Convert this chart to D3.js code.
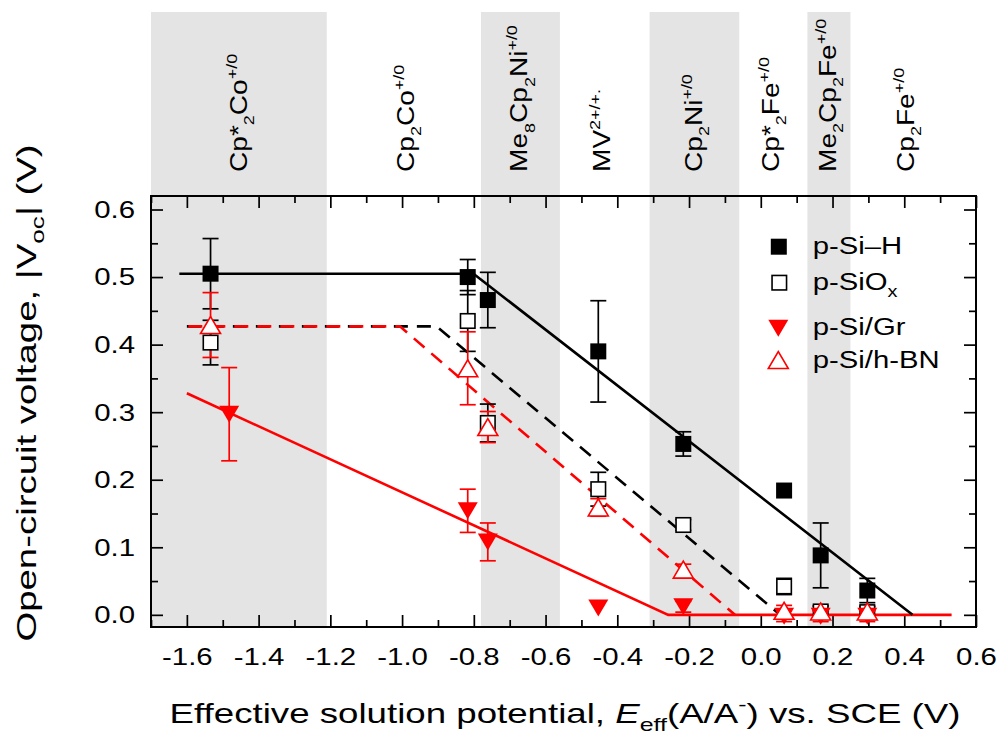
<!DOCTYPE html>
<html>
<head>
<meta charset="utf-8">
<script src="https://cdn.jsdelivr.net/npm/d3@7"></script>
<style>
  body { margin: 0; background: #fff; }
  text { font-family: "Liberation Sans", Arial, sans-serif; fill: #000; }
</style>
</head>
<body>
<div id="chart"></div>
<script>
// ---- data ----
var xMajor = [-1.6, -1.4, -1.2, -1.0, -0.8, -0.6, -0.4, -0.2, 0.0, 0.2, 0.4, 0.6];
var xMinor = [-1.7, -1.5, -1.3, -1.1, -0.9, -0.7, -0.5, -0.3, -0.1, 0.1, 0.3, 0.5];
var yMajor = [0.0, 0.1, 0.2, 0.3, 0.4, 0.5, 0.6];
var yMinor = [0.05, 0.15, 0.25, 0.35, 0.45, 0.55];

// shaded redox-couple bands (potential ranges)
var bandStart = [-1.7, -0.78, -0.31, 0.13];
var bandEnd = [-1.21, -0.56, -0.06, 0.25];

// redox couple labels and where they sit on the potential axis
var coupleE = [-1.457, -0.992, -0.675, -0.445, -0.189, 0.026, 0.185, 0.402];
var coupleNames = [
    [["Cp*"], ["2", "sub"], ["Co"], ["+/0", "sup"]],
    [["Cp"], ["2", "sub"], ["Co"], ["+/0", "sup"]],
    [["Me"], ["8", "sub"], ["Cp"], ["2", "sub"], ["Ni"], ["+/0", "sup"]],
    [["MV"], ["2+/+.", "sup"]],
    [["Cp"], ["2", "sub"], ["Ni"], ["+/0", "sup"]],
    [["Cp*"], ["2", "sub"], ["Fe"], ["+/0", "sup"]],
    [["Me"], ["2", "sub"], ["Cp"], ["2", "sub"], ["Fe"], ["+/0", "sup"]],
    [["Cp"], ["2", "sub"], ["Fe"], ["+/0", "sup"]]
];

// p-Si-H
var siHE = [-1.534, -0.817, -0.761, -0.453, -0.216, 0.065, 0.167, 0.297];
var siHV = [0.505, 0.500, 0.466, 0.390, 0.253, 0.184, 0.088, 0.036];
var siHErr = [0.052, 0.026, 0.041, 0.075, 0.018, 0, 0.048, 0.018];
// p-SiOx
var siOxE = [-1.534, -0.817, -0.761, -0.453, -0.216, 0.065, 0.167, 0.297];
var siOxV = [0.403, 0.435, 0.284, 0.186, 0.133, 0.042, 0.005, 0.004];
var siOxErr = [0.033, 0.045, 0.028, 0.025, 0.008, 0.012, 0.008, 0.008];
// p-Si/Gr
var grE = [-1.482, -0.817, -0.761, -0.453, -0.216, 0.065, 0.167, 0.297];
var grV = [0.297, 0.154, 0.108, 0.010, 0.012, -0.002, -0.002, -0.002];
var grErr = [0.069, 0.032, 0.028, 0, 0.008, 0.008, 0.008, 0.008];
// p-Si/h-BN
var bnE = [-1.534, -0.817, -0.761, -0.453, -0.216, 0.065, 0.167, 0.297];
var bnV = [0.429, 0.365, 0.278, 0.159, 0.067, 0.006, 0.005, 0.005];
var bnErr = [0.048, 0.054, 0.023, 0.013, 0.008, 0.008, 0.008, 0.008];

// guide lines (vertices)
var fitSiHE = [-1.621, -0.801, 0.423];
var fitSiHV = [0.505, 0.505, 0.0];
var fitSiOxE = [-1.60, -0.904, 0.054];
var fitSiOxV = [0.427, 0.427, 0.0];
var fitBnE = [-1.596, -1.006, -0.072];
var fitBnV = [0.427, 0.427, 0.0];
var fitGrE = [-1.600, -0.258, 0.532];
var fitGrV = [0.328, 0.0, 0.0];

var legendNames = [
    [["p-Si\u2013H"]],
    [["p-SiO"], ["x", "sub"]],
    [["p-Si/Gr"]],
    [["p-Si/h-BN"]]
];

// ---- layout ----
var svgWidth = 998;
var svgHeight = 740;
var margin = { top: 196, right: 22, bottom: 113, left: 151 };
var width = svgWidth - margin.left - margin.right;
var height = svgHeight - margin.top - margin.bottom;
var stripTop = 12;

var svg = d3.select("#chart").append("svg")
    .attr("width", svgWidth)
    .attr("height", svgHeight);

var chartGroup = svg.append("g")
    .attr("transform", `translate(${margin.left}, ${margin.top})`);

var x = d3.scaleLinear().domain([-1.7, 0.6]).range([0, width]);
var y = d3.scaleLinear().domain([-0.018, 0.62]).range([height, 0]);

function rich(t, parts, fs, small) {
    var shift = 0;
    parts.forEach(function(p) {
        var kind = p[1] || "";
        var target = kind == "sub" ? 0.3 * fs : (kind == "sup" ? -0.42 * fs : 0);
        var ts = t.append("tspan").attr("dy", target - shift).text(p[0]);
        if (kind == "sub" || kind == "sup") ts.attr("font-size", fs * small);
        if (kind == "it") ts.attr("font-style", "italic");
        shift = target;
    });
}

// text stretched along its own direction by s
function label(g, px, py, rot, anchor, fs, s, parts, small) {
    var t = g.append("text")
        .attr("transform", `translate(${px}, ${py}) rotate(${rot}) scale(${s}, 1)`)
        .attr("text-anchor", anchor)
        .attr("font-size", fs);
    rich(t, parts, fs, small || 0.68);
    return t;
}

// bands, through the top strip and the plot
chartGroup.selectAll(".band")
    .data(bandStart)
    .enter()
    .append("rect")
    .attr("x", d => x(d))
    .attr("y", stripTop - margin.top)
    .attr("width", (d, i) => x(bandEnd[i]) - x(d))
    .attr("height", height + margin.top - stripTop)
    .attr("fill", "#e4e4e4");

// couple labels
coupleE.forEach(function(e, i) {
    label(chartGroup, x(e) + 0.36 * 24, 172 - margin.top, -90, "start", 24, 1.17,
        coupleNames[i], 0.64);
});

// axes with inward ticks
function styleAxis(g) {
    g.select(".domain").remove();
    g.selectAll("line").attr("stroke", "#000").attr("stroke-width", 1.7);
}
var tickS = 1.2;

chartGroup.append("g")
    .attr("transform", `translate(0, ${height})`)
    .call(d3.axisBottom(x).tickValues(xMajor).tickSize(-12).tickPadding(21)
        .tickFormat(d => d3.format(".1f")(d).replace("\u2212", "-")))
    .call(styleAxis)
    .call(g => g.selectAll("text")
        .attr("font-size", 24.5)
        .attr("font-family", "Liberation Sans, Arial, sans-serif")
        .attr("transform", `scale(${tickS}, 1)`));
chartGroup.append("g")
    .attr("transform", `translate(0, ${height})`)
    .call(d3.axisBottom(x).tickValues(xMinor).tickSize(-7).tickFormat(""))
    .call(styleAxis);
chartGroup.append("g")
    .call(d3.axisTop(x).tickValues(xMajor).tickSize(-12).tickFormat(""))
    .call(styleAxis);
chartGroup.append("g")
    .call(d3.axisTop(x).tickValues(xMinor).tickSize(-7).tickFormat(""))
    .call(styleAxis);

chartGroup.append("g")
    .call(d3.axisLeft(y).tickValues(yMajor).tickSize(-12).tickPadding(0)
        .tickFormat(d3.format(".1f")))
    .call(styleAxis)
    .call(g => g.selectAll("text")
        .attr("font-size", 24.5)
        .attr("font-family", "Liberation Sans, Arial, sans-serif")
        .attr("x", -16 / tickS)
        .attr("transform", `scale(${tickS}, 1)`));
chartGroup.append("g")
    .call(d3.axisLeft(y).tickValues(yMinor).tickSize(-7).tickFormat(""))
    .call(styleAxis);
chartGroup.append("g")
    .attr("transform", `translate(${width}, 0)`)
    .call(d3.axisRight(y).tickValues(yMajor).tickSize(-12).tickFormat(""))
    .call(styleAxis);
chartGroup.append("g")
    .attr("transform", `translate(${width}, 0)`)
    .call(d3.axisRight(y).tickValues(yMinor).tickSize(-7).tickFormat(""))
    .call(styleAxis);

// frame
chartGroup.append("rect")
    .attr("width", width)
    .attr("height", height)
    .attr("fill", "none")
    .attr("stroke", "#000")
    .attr("stroke-width", 2);

// guide lines
var line = d3.line().x(d => x(d[0])).y(d => y(d[1]));
function guide(es, vs, color, dash) {
    chartGroup.append("path")
        .datum(es.map((e, i) => [e, vs[i]]))
        .attr("d", line)
        .attr("fill", "none")
        .attr("stroke", color)
        .attr("stroke-width", 2.6)
        .attr("stroke-dasharray", dash);
}
guide(fitSiOxE, fitSiOxV, "#000", "14,9");
guide(fitBnE, fitBnV, "#ff0000", "14,9");
guide(fitGrE, fitGrV, "#ff0000", null);
guide(fitSiHE, fitSiHV, "#000", null);

// error bars
function errorBars(es, vs, errs, color) {
    var g = chartGroup.append("g").attr("stroke", color).attr("stroke-width", 1.7);
    es.forEach(function(e, i) {
        if (!errs[i]) return;
        var cx = x(e), y0 = y(vs[i] - errs[i]), y1 = y(vs[i] + errs[i]);
        g.append("line").attr("x1", cx).attr("x2", cx).attr("y1", y0).attr("y2", y1);
        g.append("line").attr("x1", cx - 8).attr("x2", cx + 8).attr("y1", y0).attr("y2", y0);
        g.append("line").attr("x1", cx - 8).attr("x2", cx + 8).attr("y1", y1).attr("y2", y1);
    });
}
errorBars(siHE, siHV, siHErr, "#000");
errorBars(siOxE, siOxV, siOxErr, "#000");
errorBars(grE, grV, grErr, "#ff0000");
errorBars(bnE, bnV, bnErr, "#ff0000");

// markers
function square(g, cx, cy, filled) {
    var s = filled ? 16 : 14.5;
    g.append("rect")
        .attr("x", cx - s / 2).attr("y", cy - s / 2)
        .attr("width", s).attr("height", s)
        .attr("fill", filled ? "#000" : "#fff")
        .attr("stroke", "#000")
        .attr("stroke-width", filled ? 0 : 1.6);
}
function triangle(g, cx, cy, down, filled) {
    var w = 20, h = 17;
    var pts = down
        ? [[cx - w / 2, cy - h / 2], [cx + w / 2, cy - h / 2], [cx, cy + h / 2]]
        : [[cx - w / 2, cy + h / 2], [cx + w / 2, cy + h / 2], [cx, cy - h / 2]];
    g.append("path")
        .attr("d", "M" + pts.join("L") + "Z")
        .attr("fill", filled ? "#ff0000" : "#fff")
        .attr("stroke", "#ff0000")
        .attr("stroke-width", filled ? 0 : 1.6);
}

var markers = chartGroup.append("g");
siHE.forEach((e, i) => square(markers, x(e), y(siHV[i]), true));
siOxE.forEach((e, i) => square(markers, x(e), y(siOxV[i]), false));
grE.forEach((e, i) => triangle(markers, x(e), y(grV[i]), true, true));
bnE.forEach((e, i) => triangle(markers, x(e), y(bnV[i]), false, false));

// legend
var legend = svg.append("g");
var legY = [246.7, 282.7, 328.3, 360];
var legBase = [254.3, 290, 335, 368.3];
square(legend, 778.8, legY[0], true);
square(legend, 779.3, legY[1], false);
triangle(legend, 778.3, legY[2], true, true);
triangle(legend, 778.3, legY[3], false, false);
legendNames.forEach(function(n, i) {
    label(legend, 812.7, legBase[i], 0, "start", 24, 1.22, n);
});

// axis titles
label(svg, 565, 723, 0, "middle", 28, 1.31, [
    ["Effective solution potential, "], ["E", "it"], ["eff", "sub"], ["(A/A"], ["-", "sup"],
    [") vs. SCE (V)"]
]);
label(svg, 36, 393, -90, "middle", 28, 1.37, [
    ["Open-circuit voltage, |V"], ["oc", "sub"], ["| (V)"]
]);
</script>
</body>
</html>
